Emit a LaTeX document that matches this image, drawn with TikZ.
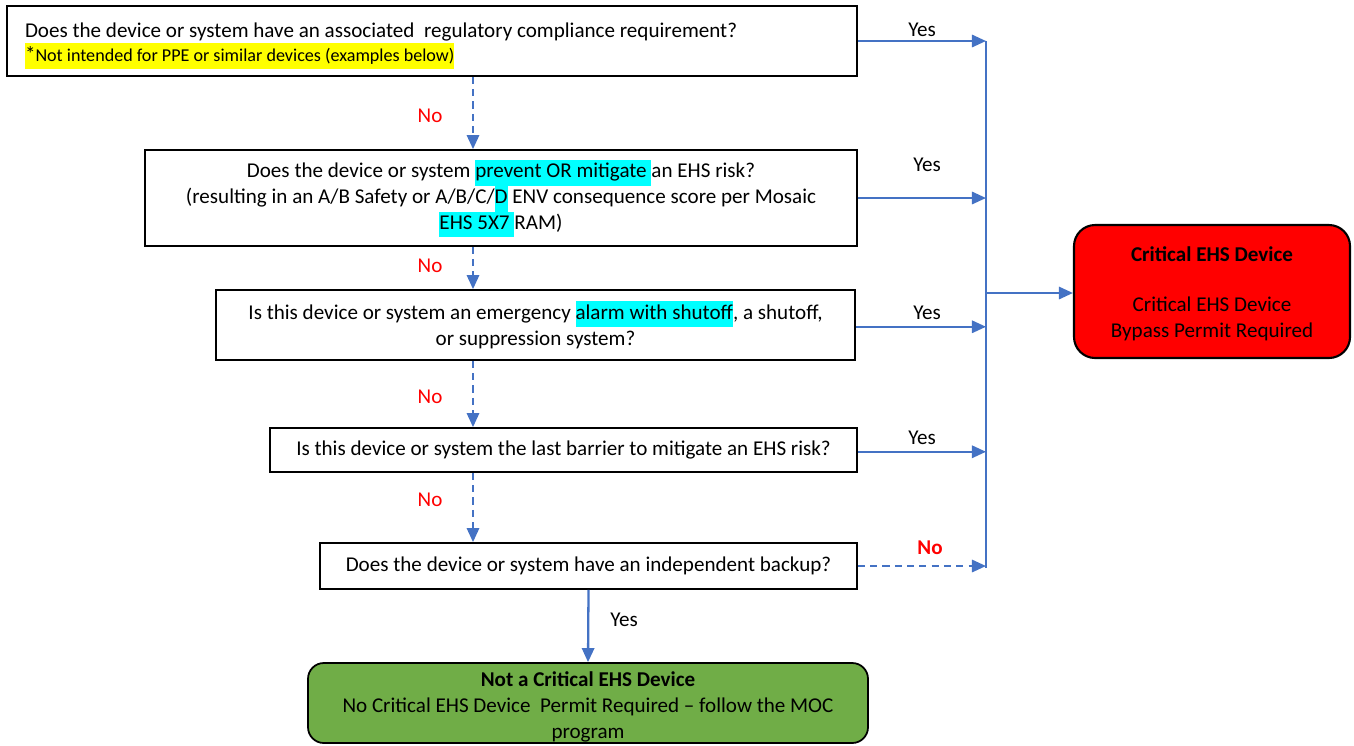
\documentclass[tikz,border=0pt]{standalone}
\usepackage{fontspec}
\setmainfont{Carlito}
\usetikzlibrary{arrows.meta}
\definecolor{lblue}{HTML}{4472C4}
\definecolor{gfill}{HTML}{70AD47}
\definecolor{hcyan}{HTML}{00FFFF}
\definecolor{hyel}{HTML}{FFFF00}
\newcommand\hlx[2]{{\setlength{\fboxsep}{0pt}\colorbox{#1}{\strut #2}}}
\tikzset{
  qbox/.style={draw=black, line width=1pt, fill=white, inner sep=0pt, align=center},
  conn/.style={draw=lblue, line width=1.3pt, -{Triangle[length=8pt,width=7pt]}},
  noconn/.style={conn, dashed, dash pattern=on 4pt off 3pt},
  bus/.style={draw=lblue, line width=1.3pt},
  lab/.style={inner sep=0pt, font=\fontsize{12}{14}\selectfont},
  nolab/.style={lab, text=red},
}
\begin{document}
\begin{tikzpicture}[x=0.02cm,y=-0.02cm, font=\fontsize{12}{14.7}\selectfont]
\useasboundingbox (0,0) rectangle (1354,745);
\node[qbox, minimum width=850*0.02cm, minimum height=70*0.02cm, text width=814*0.02cm, align=flush left] (q1) at (432,41)
  {\rule{0pt}{14pt}Does the device or system have an associated\ \ regulatory compliance requirement?\\[-1pt]
   \hlx{hyel}{*\fontsize{10.3}{12}\selectfont Not intended for PPE or similar devices (examples below)}};
\node[qbox, minimum width=712*0.02cm, minimum height=96*0.02cm] (q2) at (501,198)
  {\rule{0pt}{11pt}Does the device or system \hlx{hcyan}{prevent OR mitigate }an EHS risk?\\
   (resulting in an A/B Safety or A/B/C/\hlx{hcyan}{D} ENV consequence score per Mosaic\\
   \hlx{hcyan}{EHS 5X7 }RAM)};
\node[qbox, minimum width=639*0.02cm, minimum height=70*0.02cm] (q3) at (535.5,325)
  {Is this device or system an emergency \hlx{hcyan}{alarm with shutoff}, a shutoff,\\
   or suppression system?};
\node[qbox, minimum width=587*0.02cm, minimum height=44*0.02cm] (q4) at (563.5,450)
  {Is this device or system the last barrier to mitigate an EHS risk?};
\node[qbox, minimum width=537*0.02cm, minimum height=46*0.02cm] (q5) at (588.5,566)
  {Does the device or system have an independent backup?};
\node[draw=black, line width=1pt, fill=gfill, rounded corners=9pt, inner sep=0pt, align=center,
  minimum width=560*0.02cm, minimum height=80*0.02cm] (ok) at (588,703)
  {\rule{0pt}{13pt}\textbf{Not a Critical EHS Device}\\
   No Critical EHS Device\ \ Permit Required -- follow the MOC\\ program};
\node[draw=black, line width=1.2pt, fill=red, rounded corners=12pt, inner sep=0pt, align=center,
  minimum width=276*0.02cm, minimum height=133*0.02cm] (crit) at (1212,291.5)
  {\rule{0pt}{11pt}\textbf{Critical EHS Device}\\[14pt]
   Critical EHS Device\\ Bypass Permit Required};
% bus
\coordinate (bt) at (986,41);
\coordinate (bb) at (986,568);
\coordinate (bm) at (986,293);
\draw[bus] (bt) -- (bb);
\draw[conn] (q1.east) -- (q1.east -| bt);
\draw[conn] (q2.east) -- (q2.east -| bt);
\draw[conn] ([yshift=-1pt]q3.east) -- ([yshift=-1pt]q3.east -| bt);
\draw[conn] ([yshift=-1pt]q4.east) -- ([yshift=-1pt]q4.east -| bt);
\draw[noconn] (q5.east) -- (q5.east -| bt);
\draw[conn] (bm) -- (bm -| crit.west);
% downward
\draw[noconn] (q1.south -| 473,0) -- (q2.north -| 473,0);
\draw[noconn] (q2.south -| 473,0) -- (q3.north -| 473,0);
\draw[noconn] (q3.south -| 473,0) -- (q4.north -| 473,0);
\draw[noconn] (q4.south -| 473,0) -- (q5.north -| 473,0);
\draw[conn] (q5.south) -- (ok.north);
% labels
\node[lab] (y1) at (922,30) {Yes};
\node[lab] (y2) at (927,165) {Yes};
\node[lab] (y3) at (927,313) {Yes};
\node[lab] (y4) at (922,438) {Yes};
\node[lab, text=red, font=\fontsize{12}{14}\selectfont\bfseries] (n5) at (930,548) {No};
\node[nolab] (n1) at (430,116) {No};
\node[nolab] (n2) at (430,266) {No};
\node[nolab] (n3) at (430,397) {No};
\node[nolab] (n4) at (430,500) {No};
\node[lab] (y5) at (624,620) {Yes};
\end{tikzpicture}
\end{document}
